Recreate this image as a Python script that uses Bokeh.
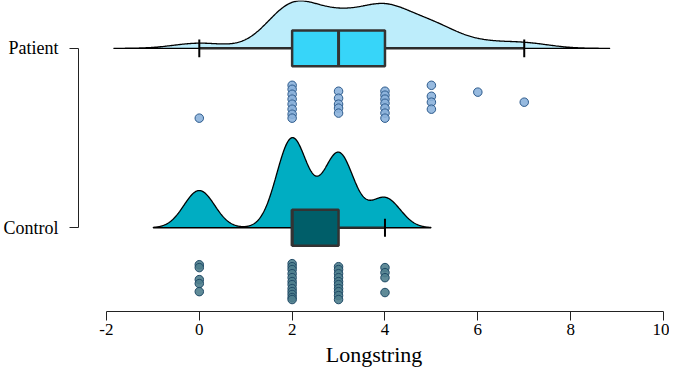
import numpy as np
from bokeh.plotting import figure
from bokeh.models import FixedTicker, Range1d
from bokeh.embed import file_html
from bokeh.resources import INLINE

# ---- data ----
groups = ["Control", "Patient"]
group_pos = {"Control": 1, "Patient": 2}

patient_values = [0,
                  2, 2, 2, 2, 2, 2, 2, 2,
                  3, 3, 3, 3, 3,
                  4, 4, 4, 4, 4, 4, 4,
                  5, 5, 5, 5,
                  6,
                  7]
patient_jitter = [0.89,
                  -0.94, -0.72, -0.44, -0.17, 0.11, 0.39, 0.67, 0.89,
                  -0.61, -0.22, 0.11, 0.33, 0.61,
                  -0.61, -0.39, -0.17, 0.06, 0.33, 0.61, 0.89,
                  -0.94, -0.33, 0.0, 0.39,
                  -0.56,
                  0.0]

control_values = [0, 0, 0, 0, 0,
                  2, 2, 2, 2, 2, 2, 2, 2, 2, 2, 2, 2,
                  3, 3, 3, 3, 3, 3, 3, 3, 3, 3,
                  4, 4, 4, 4]
control_jitter = [-0.94, -0.78, -0.11, 0.11, 0.56,
                  -1.0, -0.83, -0.67, -0.44, -0.22, 0.0, 0.17, 0.39, 0.56, 0.72, 0.89, 1.0,
                  -0.83, -0.67, -0.44, -0.22, 0.0, 0.17, 0.39, 0.56, 0.78, 1.0,
                  -0.78, -0.5, -0.22, 0.61]

bandwidth = {"Patient": 0.55, "Control": 0.33}
cut = {"Patient": 3.35, "Control": 3.0}

x_ticks = [-2, 0, 2, 4, 6, 8, 10]

# ---- styles ----
FONT = "Liberation Serif"
density_fill = {"Patient": "#BDEDFB", "Control": "#00ADC2"}
box_fill = {"Patient": "#37D5F9", "Control": "#005E69"}
point_fill = {"Patient": "#8CB2DC", "Control": "#4F7E8D"}
point_line = {"Patient": "#2C5A8C", "Control": "#1F4A66"}
values = {"Patient": patient_values, "Control": control_values}
jitter = {"Patient": patient_jitter, "Control": control_jitter}

DENS_SCALE = 1.064
BOX_HALF = 0.1
CAP_HALF = 0.05
PT_OFFSET = 0.3
PT_SPREAD = 0.1


def kde(vals, bw, c, n=600):
    v = np.asarray(vals, float)
    xs = np.linspace(v.min() - c * bw, v.max() + c * bw, n)
    z = (xs[:, None] - v[None, :]) / bw
    d = np.exp(-0.5 * z * z).sum(axis=1) / (len(v) * bw * np.sqrt(2 * np.pi))
    return xs, d


p = figure(width=669, height=369,
           x_range=Range1d(-2.602, 10.129), y_range=Range1d(0.5333, 2.2667),
           output_backend="svg", toolbar_location=None,
           min_border_left=77, min_border_right=0, min_border_top=0, min_border_bottom=57)
p.grid.visible = False
p.outline_line_color = None

for g in groups:
    base = group_pos[g]
    v = np.asarray(values[g], float)
    xs, d = kde(v, bandwidth[g], cut[g])
    px = np.concatenate([xs, xs[::-1]])
    py = np.concatenate([base + d * DENS_SCALE, np.full(len(xs), base)])
    p.patch(px, py, fill_color=density_fill[g], line_color="black", line_width=1.3)

    q1, med, q3 = np.percentile(v, [25, 50, 75])
    iqr = q3 - q1
    hi = v[v <= q3 + 1.5 * iqr].max()
    lo = v[v >= q1 - 1.5 * iqr].min()
    p.segment(x0=[lo, q3], y0=[base, base], x1=[q1, hi], y1=[base, base],
              line_color="#2b2b2b", line_width=2.5)
    caps = [c for c in (lo, hi) if c not in (q1, q3)]
    p.segment(x0=caps, y0=[base - CAP_HALF] * len(caps), x1=caps, y1=[base + CAP_HALF] * len(caps),
              line_color="black", line_width=2)
    p.quad(left=[q1], right=[q3], bottom=[base - BOX_HALF], top=[base + BOX_HALF],
           fill_color=box_fill[g], line_color="#333333", line_width=2.5)
    p.segment(x0=[med], y0=[base - BOX_HALF], x1=[med], y1=[base + BOX_HALF],
              line_color="#333333", line_width=3)

    ys = base - (PT_OFFSET + PT_SPREAD * np.asarray(jitter[g], float))
    p.scatter(v, ys, size=8.5, fill_color=point_fill[g], line_color=point_line[g],
              line_width=1, fill_alpha=0.9)

# x axis
xa = p.xaxis[0]
xa.ticker = FixedTicker(ticks=x_ticks)
xa.major_label_overrides = {t: str(t) for t in x_ticks}
xa.bounds = (x_ticks[0], x_ticks[-1])
xa.minor_tick_line_color = None
xa.major_tick_in = 0
xa.major_tick_out = 9
xa.axis_line_color = "#222222"
xa.major_tick_line_color = "#222222"
xa.major_label_standoff = 3
xa.major_label_text_font = FONT
xa.major_label_text_font_size = "17px"
xa.major_label_text_color = "black"
xa.axis_label = "Longstring"
xa.axis_label_text_font = FONT
xa.axis_label_text_font_size = "22px"
xa.axis_label_text_font_style = "normal"
xa.axis_label_text_color = "black"
xa.axis_label_standoff = 4

# y axis
ya = p.yaxis[0]
ya.ticker = FixedTicker(ticks=[group_pos[g] for g in groups])
ya.major_label_overrides = {group_pos[g]: g for g in groups}
ya.bounds = (1, 2)
ya.minor_tick_line_color = None
ya.major_tick_in = 0
ya.major_tick_out = 9
ya.axis_line_color = "#222222"
ya.major_tick_line_color = "#222222"
ya.major_label_standoff = 11
ya.major_label_text_font = FONT
ya.major_label_text_font_size = "18px"
ya.major_label_text_color = "black"

open("out.html", "w").write(file_html(p, INLINE))
